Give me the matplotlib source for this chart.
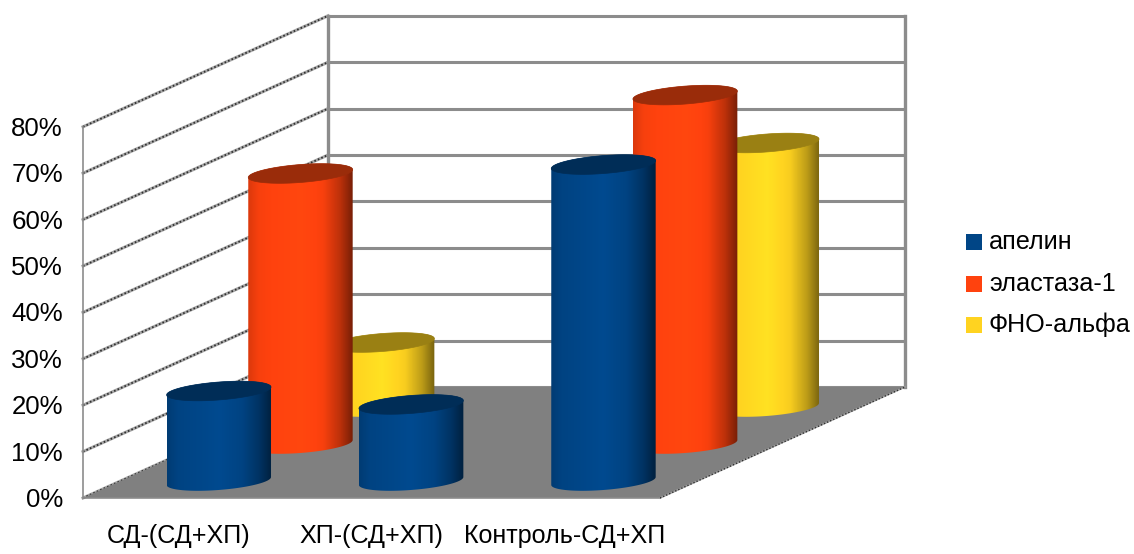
import numpy as np
import matplotlib
matplotlib.use("Agg")
import matplotlib.pyplot as plt
from matplotlib.patches import Polygon, Rectangle
from matplotlib.colors import to_rgb

categories = ["СД-(СД+ХП)", "ХП-(СД+ХП)", "Контроль-СД+ХП"]
series_names = ["апелин", "эластаза-1", "ФНО-альфа"]
apelin = [19.4, 16.5, 68.2]
elastase = [58.3, 0, 75.2]
tnf_alpha = [13.9, 0, 56.9]
y_ticks = [0, 10, 20, 30, 40, 50, 60, 70, 80]

colors = ["#004586", "#ff420e", "#ffd320"]
top_colors = ["#002d57", "#9a2c0a", "#9a8013"]

# oblique box geometry, in canvas pixels
X0, Y0 = 83, 498
BOX_W = 577
DEPTH_X, DEPTH_Y = 245, -111
PX_PER_PCT = 4.64
GRID = "#8c8c8c"


def project(cat, value, depth):
    """cat in category units, value in %, depth 0 (front) to 1 (back)."""
    x = X0 + cat / len(categories) * BOX_W + depth * DEPTH_X
    y = Y0 - value * PX_PER_PCT + depth * DEPTH_Y
    return x, y


def ellipse(cx, cy, r, a, b, t):
    return np.column_stack([cx + r * np.cos(t) + a * np.sin(t), cy - b * np.sin(t)])


def cylinder(ax, cat, value, row, color, top_color):
    depth = (row + 0.5) / 3
    bx, by = project(cat + 0.5, 0, depth)
    bx -= 1.2
    by += 1.5
    tx, ty = bx, by - value * PX_PER_PCT
    r, a, b = 47.8, 21.0, 9.8
    t0 = np.arctan2(a, r)
    lower = ellipse(bx, by, r, a, b, np.linspace(t0 + np.pi, t0 + 2 * np.pi, 60))
    upper = ellipse(tx, ty, r, a, b, np.linspace(t0, t0 + np.pi, 60))
    body = Polygon(np.vstack([lower, upper]), closed=True, transform=ax.transData)

    half = np.hypot(r, a)
    stops = [0, 0.1, 0.5, 0.72, 0.88, 1]
    shade = [0.86, 0.97, 1.07, 0.97, 0.74, 0.47]
    u = np.linspace(0, 1, 128)
    f = np.interp(u, stops, shade)
    img = np.clip(np.outer(f, to_rgb(color)), 0, 1)[None, :, :]
    im = ax.imshow(img, extent=(bx - half, bx + half, by + b, ty - b), aspect="auto",
                   interpolation="bilinear", zorder=3 + (3 - row) * 2)
    im.set_clip_path(body)

    lid = ellipse(tx, ty, r, a, b, np.linspace(0, 2 * np.pi, 120))
    ax.add_patch(Polygon(lid, closed=True, fc=top_color, ec=top_color, lw=0.5,
                         zorder=3.5 + (3 - row) * 2))


fig = plt.figure(figsize=(11.34, 5.54), dpi=100)
ax = fig.add_axes([0, 0, 1, 1])

# walls and floor
top = y_ticks[-1]
ax.add_patch(Polygon([project(0, 0, 0), project(0, top, 0), project(0, top, 1), project(0, 0, 1)],
                     fc="white", ec="none", zorder=0))
ax.add_patch(Polygon([project(0, 0, 1), project(0, top, 1), project(3, top, 1), project(3, 0, 1)],
                     fc="white", ec="none", zorder=0))
ax.add_patch(Polygon([project(0, 0, 0), project(3, 0, 0), project(3, 0, 1), project(0, 0, 1)],
                     fc="#808080", ec="none", zorder=1))

for v in y_ticks:
    (x1, y1), (x2, y2) = project(0, v, 1), project(3, v, 1)
    ax.plot([x1, x2], [y1, y2], color=GRID, lw=2.2, zorder=0.5, solid_capstyle="butt")
    (x3, y3) = project(0, v, 0)
    ax.plot([x3, x1], [y3, y1], color="#a8a8a8", lw=2.2, zorder=0.6)
    ax.plot([x3, x1], [y3, y1], color="#303030", lw=1.3, ls=(0, (0.9, 1.2)), zorder=0.7)
    ax.text(x3 - 20, y3 + 2, f"{v}%", ha="right", va="center", fontsize=18.6,
            family="Liberation Sans", color="black")

# vertical frame edges
for cat, depth, lw in [(0, 1, 2.4), (3, 1, 2.4), (0, 0, 1.2)]:
    xa, ya = project(cat, 0, depth)
    xb, yb = project(cat, top, depth)
    ax.plot([xa, xb], [ya, yb], color=GRID, lw=lw, zorder=0.8)

# floor edges
xa, ya = project(0, 0, 0)
xb, yb = project(3, 0, 0)
xc, yc = project(3, 0, 1)
ax.plot([xa, xb], [ya, yb], color="#8c8c8c", lw=1.2, zorder=1.2)
ax.plot([xb, xc], [yb, yc], color="#a0a0a0", lw=1.2, zorder=1.2)
ax.plot([xb, xc], [yb, yc], color="#303030", lw=1.0, ls=(0, (1, 1.4)), zorder=1.3)

# cylinders, back row first
for row, values in enumerate([apelin, elastase, tnf_alpha]):
    for cat, value in enumerate(values):
        if value > 0:
            cylinder(ax, cat, value, row, colors[row], top_colors[row])

# category labels
label_x = [178.5, 371.5, 565]
for x, name in zip(label_x, categories):
    ax.text(x, 536, name, ha="center", va="center", fontsize=18.1,
            family="Liberation Sans", color="black")

# legend
legend_y = [242, 284, 325]
for y, name, c in zip(legend_y, series_names, colors):
    ax.add_patch(Rectangle((966, y - 8), 16, 16, fc=c, ec="none", zorder=5))
    ax.text(989, y, name, ha="left", va="center", fontsize=18.1,
            family="Liberation Sans", color="black")

ax.set_xlim(0, 1134)
ax.set_ylim(554, 0)
ax.axis("off")

fig.savefig("out.png", dpi=100, facecolor="white")
plt.close(fig)
